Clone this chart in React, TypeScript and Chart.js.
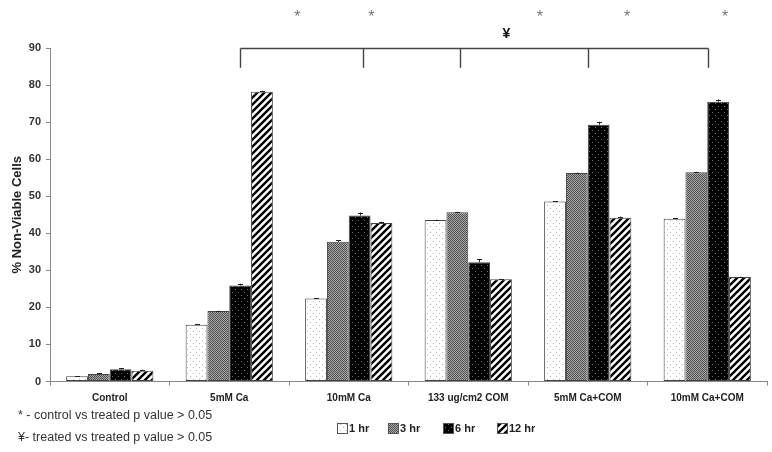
import React, { useEffect, useRef } from "react";
import { Chart, registerables } from "chart.js";

Chart.register(...registerables);

const categories = ["Control", "5mM Ca", "10mM Ca", "133 ug/cm2 COM", "5mM Ca+COM", "10mM Ca+COM"];
const seriesNames = ["1 hr", "3 hr", "6 hr", "12 hr"];
const hr1 = [1.4, 15.3, 22.4, 43.6, 48.6, 43.9];
const hr3 = [2.0, 19.0, 37.7, 45.7, 56.3, 56.5];
const hr6 = [3.3, 25.9, 44.8, 32.2, 69.3, 75.5];
const hr12 = [2.9, 78.2, 42.8, 27.6, 44.2, 28.2];
const err1 = [0.1, 0.1, 0.1, 0.1, 0.1, 0.1];
const err3 = [0.2, 0.1, 0.4, 0.1, 0.1, 0.1];
const err6 = [0.3, 0.5, 0.8, 0.8, 0.8, 0.6];
const err12 = [0.3, 0.3, 0.3, 0.1, 0.3, 0.1];
const yTicks = [0, 10, 20, 30, 40, 50, 60, 70, 80, 90];
// significance annotations (category index positions)
const bracketPositions = [1.09, 2.12, 2.93, 4.0, 5.01];
const starPositions = [1.57, 2.19, 3.6, 4.33, 5.15];
const yenPosition = 3.32;
const footnotes = ["* - control vs treated p value > 0.05", "\u00a5- treated vs treated p value > 0.05"];

const FONT = "'Liberation Sans', Arial, sans-serif";

function makePattern(kind: number): CanvasPattern | string {
  const c = document.createElement("canvas");
  const ctx = c.getContext("2d")!;
  if (kind === 0) {
    c.width = 6; c.height = 6;
    ctx.fillStyle = "#ffffff"; ctx.fillRect(0, 0, 6, 6);
    ctx.fillStyle = "#b8b8b8";
    ctx.fillRect(1, 1, 1, 1);
    ctx.fillRect(4, 4, 1, 1);
  } else if (kind === 1) {
    c.width = 2; c.height = 2;
    ctx.fillStyle = "#a8a8a8"; ctx.fillRect(0, 0, 2, 2);
    ctx.fillStyle = "#505050";
    ctx.fillRect(0, 0, 1, 1);
    ctx.fillRect(1, 1, 1, 1);
  } else if (kind === 2) {
    c.width = 6; c.height = 6;
    ctx.fillStyle = "#000000"; ctx.fillRect(0, 0, 6, 6);
    ctx.fillStyle = "#707070";
    ctx.fillRect(1, 1, 1, 1);
    ctx.fillRect(4, 4, 1, 1);
  } else {
    c.width = 7; c.height = 7;
    ctx.fillStyle = "#ffffff"; ctx.fillRect(0, 0, 7, 7);
    ctx.strokeStyle = "#000000";
    ctx.lineWidth = 2.4;
    ctx.beginPath();
    ctx.moveTo(-1, 8); ctx.lineTo(8, -1);
    ctx.moveTo(-5, 5); ctx.lineTo(5, -5);
    ctx.moveTo(2, 12); ctx.lineTo(12, 2);
    ctx.stroke();
  }
  const p = ctx.createPattern(c, "repeat");
  return p || "#888";
}

export default function App() {
  const ref = useRef<HTMLCanvasElement>(null);
  useEffect(() => {
    document.body.style.margin = "0";
    const canvas = ref.current!;
    const patterns = [0, 1, 2, 3].map(makePattern);
    const values = [hr1, hr3, hr6, hr12];
    const errs = [err1, err3, err6, err12];

    const annotations = {
      id: "annotations",
      afterDatasetsDraw(chart: any) {
        const ctx = chart.ctx as CanvasRenderingContext2D;
        const ys = chart.scales.y;
        ctx.save();
        ctx.strokeStyle = "#222";
        ctx.lineWidth = 1;
        chart.data.datasets.forEach((ds: any, di: number) => {
          const meta = chart.getDatasetMeta(di);
          meta.data.forEach((bar: any, i: number) => {
            const v = values[di][i];
            const e = errs[di][i];
            const x = Math.round(bar.x) + 0.5;
            const yt = ys.getPixelForValue(v + e);
            const yb = ys.getPixelForValue(v);
            ctx.beginPath();
            ctx.moveTo(x, yb);
            ctx.lineTo(x, yt);
            ctx.moveTo(x - 2.5, Math.round(yt) + 0.5);
            ctx.lineTo(x + 2.5, Math.round(yt) + 0.5);
            ctx.stroke();
          });
        });
        ctx.restore();
      },
      afterDraw(chart: any) {
        const ctx = chart.ctx as CanvasRenderingContext2D;
        const xs = chart.scales.x;
        const ys = chart.scales.y;
        ctx.save();
        // bracket
        const by = Math.round(ys.getPixelForValue(90)) + 0.5;
        const bb = ys.getPixelForValue(84.7);
        const bx0 = Math.round(xs.getPixelForValue(bracketPositions[0])) + 0.5;
        const bx1 = Math.round(xs.getPixelForValue(bracketPositions[bracketPositions.length - 1])) + 0.5;
        ctx.strokeStyle = "#444";
        ctx.lineWidth = 1.4;
        ctx.beginPath();
        ctx.moveTo(bx0, by);
        ctx.lineTo(bx1, by);
        bracketPositions.forEach((p) => {
          const x = Math.round(xs.getPixelForValue(p)) + 0.5;
          ctx.moveTo(x, by);
          ctx.lineTo(x, bb);
        });
        ctx.stroke();
        // stars
        ctx.fillStyle = "#777";
        ctx.font = `16px ${FONT}`;
        ctx.textAlign = "center";
        ctx.textBaseline = "middle";
        starPositions.forEach((p) => {
          ctx.fillText("*", xs.getPixelForValue(p), ys.getPixelForValue(98.2));
        });
        // yen
        ctx.fillStyle = "#111";
        ctx.font = `bold 14px ${FONT}`;
        ctx.fillText("\u00a5", xs.getPixelForValue(yenPosition), ys.getPixelForValue(93.7));
        // footnotes
        ctx.fillStyle = "#333";
        ctx.font = `12.5px ${FONT}`;
        ctx.textAlign = "left";
        ctx.fillText(footnotes[0], 18, 416);
        ctx.fillText(footnotes[1], 18, 438);
        // legend
        const legendX = [337, 388, 443, 497];
        const ly = 428;
        ctx.font = `bold 11px ${FONT}`;
        seriesNames.forEach((name, i) => {
          const x = legendX[i];
          ctx.fillStyle = patterns[i] as any;
          ctx.fillRect(x, ly - 5, 10, 10);
          ctx.strokeStyle = "#555";
          ctx.lineWidth = 1;
          ctx.strokeRect(x + 0.5, ly - 5 + 0.5, 10, 10);
          ctx.fillStyle = "#222";
          ctx.fillText(name, x + 12, ly + 0.5);
        });
        ctx.restore();
      },
    };

    const chart = new Chart(canvas, {
      type: "bar",
      data: {
        labels: categories,
        datasets: seriesNames.map((name, i) => ({
          label: name,
          data: values[i],
          backgroundColor: patterns[i] as any,
          borderColor: "#444",
          borderWidth: 1,
          borderSkipped: false,
          categoryPercentage: 0.73,
          barPercentage: 1.0,
        })),
      },
      options: {
        responsive: false,
        animation: false,
        devicePixelRatio: 1,
        layout: { padding: { top: 48, right: 5, left: 0, bottom: 0 } },
        plugins: {
          legend: { display: false },
          tooltip: { enabled: false },
        },
        scales: {
          x: {
            offset: true,
            grid: {
              display: true,
              offset: true,
              drawOnChartArea: false,
              drawTicks: true,
              tickLength: 4,
              color: "#888",
            },
            border: { display: true, color: "#888", width: 1 },
            ticks: {
              color: "#222",
              font: { family: FONT, size: 10, weight: "bold" },
              padding: 7,
              maxRotation: 0,
              autoSkip: false,
            },
            afterFit: (scale: any) => {
              scale.height = 70.5;
            },
          },
          y: {
            min: 0,
            max: 90,
            afterBuildTicks: (scale: any) => {
              scale.ticks = yTicks.map((v) => ({ value: v }));
            },
            grid: {
              display: true,
              drawOnChartArea: false,
              drawTicks: true,
              tickLength: 4,
              color: "#888",
            },
            border: { display: true, color: "#888", width: 1 },
            ticks: {
              color: "#333",
              font: { family: FONT, size: 11, weight: "bold" },
              padding: 5,
            },
            title: {
              display: true,
              text: "% Non-Viable Cells",
              color: "#222",
              font: { family: FONT, size: 13, weight: "bold" },
              padding: { top: 10, bottom: 0 },
            },
            afterFit: (scale: any) => {
              scale.width = 50;
            },
          },
        },
      },
      plugins: [annotations],
    });
    return () => chart.destroy();
  }, []);
  return (
    <div style={{ width: 772, height: 452, background: "#fff" }}>
      <canvas ref={ref} width={772} height={452} style={{ display: "block" }} />
    </div>
  );
}
